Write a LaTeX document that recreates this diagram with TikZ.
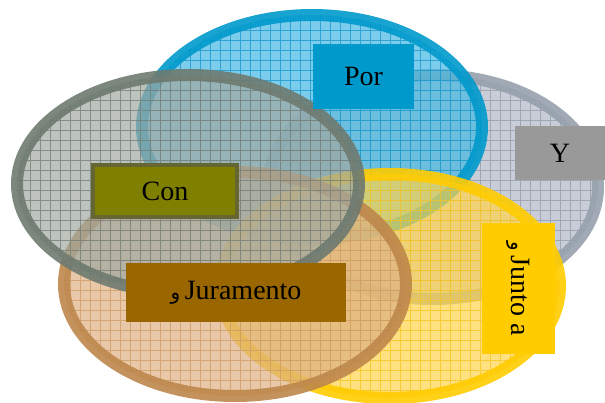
\documentclass[tikz,border=0pt]{standalone}
\usepackage{fontspec}
\setmainfont{Liberation Serif}
\newfontfamily\arabicfont[Script=Arabic]{DejaVu Sans}
\TeXXeTstate=1
\definecolor{porrim}{RGB}{0,153,204}
\definecolor{porfill}{RGB}{69,184,226}
\definecolor{porgrid}{RGB}{20,150,205}
\definecolor{yrim}{RGB}{150,160,172}
\definecolor{yfill}{RGB}{177,184,198}
\definecolor{ygrid}{RGB}{145,155,170}
\definecolor{conrim}{RGB}{110,122,112}
\definecolor{confill}{RGB}{162,169,162}
\definecolor{congrid}{RGB}{115,124,117}
\definecolor{jurrim}{RGB}{190,135,75}
\definecolor{jurfill}{RGB}{222,177,131}
\definecolor{jurgrid}{RGB}{205,155,100}
\definecolor{junrim}{RGB}{255,204,0}
\definecolor{junfill}{RGB}{255,212,76}
\definecolor{jungrid}{RGB}{248,195,30}
\definecolor{porbox}{RGB}{0,153,204}
\definecolor{ybox}{RGB}{153,153,153}
\definecolor{conbox}{RGB}{128,128,0}
\definecolor{conborder}{RGB}{102,102,51}
\definecolor{jurbox}{RGB}{153,102,0}
\definecolor{junbox}{RGB}{255,204,0}
\newcommand\vennset[7]{%
  \begin{scope}
    \clip (#1,#2) ellipse [x radius=#3, y radius=#4];
    \fill[#5, fill opacity=0.7] (#1-#3,#2-#4) rectangle (#1+#3,#2+#4);
    \draw[#6, line width=0.8pt, draw opacity=0.75, step=10pt] (#1-#3-10,#2-#4-10) grid (#1+#3+10,#2+#4+10);
  \end{scope}
  \draw[#7, line width=12pt, draw opacity=0.9] (#1,#2) ellipse [x radius=#3, y radius=#4];
}
\begin{document}
\begin{tikzpicture}[x=1pt,y=-1pt,
  lbl/.style={font=\fontsize{28}{32}\selectfont, text=black, inner sep=0pt, align=center}]
\useasboundingbox (0,0) rectangle (605,402);
% sets
\vennset{433}{187}{165}{112}{yfill}{ygrid}{yrim}
\vennset{312}{127}{170}{112}{porfill}{porgrid}{porrim}
\vennset{390}{286}{170}{112}{junfill}{jungrid}{junrim}
\vennset{235}{284}{171}{112}{jurfill}{jurgrid}{jurrim}
\vennset{188}{184}{171}{109}{confill}{congrid}{conrim}
% labels
\node[lbl, fill=porbox, minimum width=101, minimum height=65] (por) at (363.5,76.5) {Por};
\node[lbl, fill=ybox, minimum width=90, minimum height=54] (y) at (560,153) {Y};
\node[lbl, fill=conbox, draw=conborder, line width=4pt, minimum width=144, minimum height=52] (con) at (165,191) {Con};
\node[lbl, fill=jurbox, minimum width=220, minimum height=59] (jur) at (236,292.5) {{\arabicfont\fontsize{20}{24}\selectfont\beginR و\endR}\,Juramento};
\node[lbl, fill=junbox, rotate=-90, minimum width=131, minimum height=73] (jun) at (518.5,288.5) {{\arabicfont\fontsize{20}{24}\selectfont\beginR و\endR}\,Junto a};
\end{tikzpicture}
\end{document}
